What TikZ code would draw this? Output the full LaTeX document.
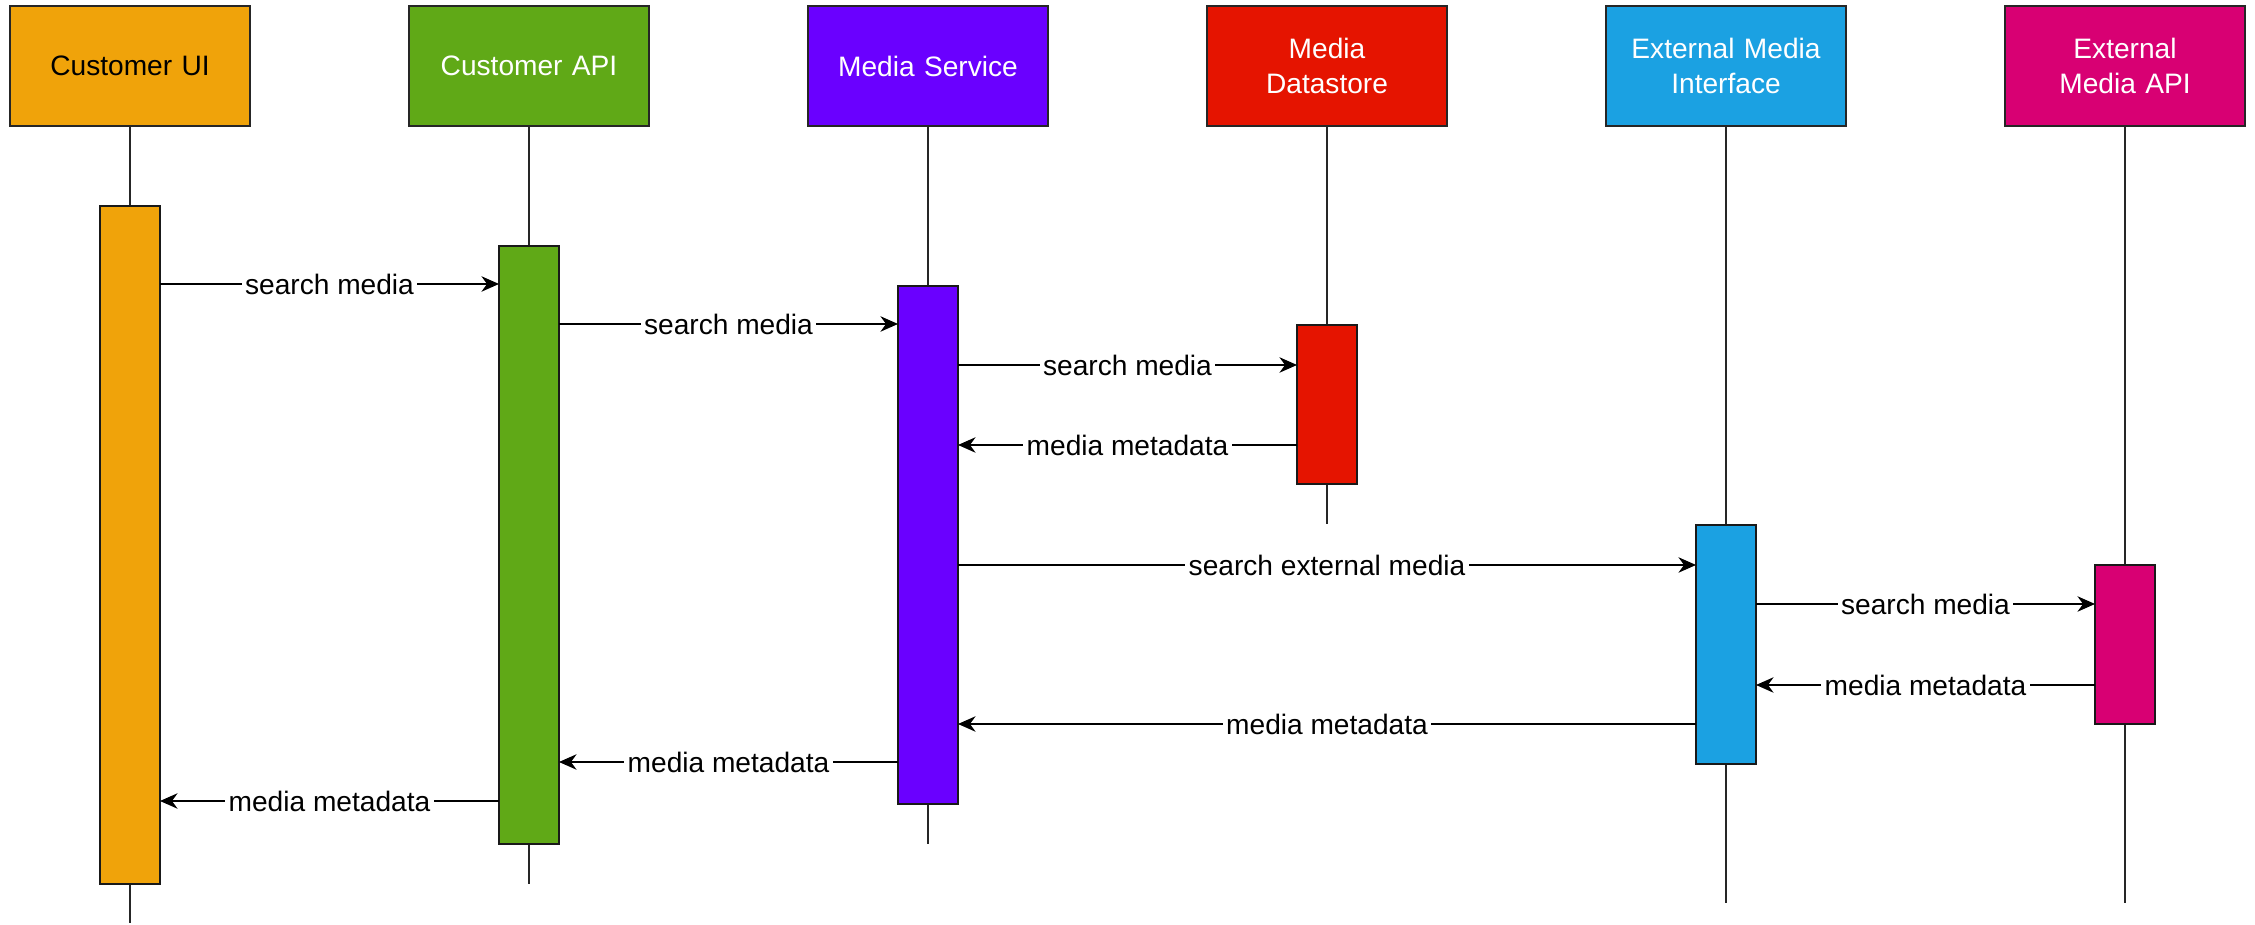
\documentclass[tikz,border=0pt]{standalone}
\usepackage{fontspec}
\setmainfont{Liberation Sans}
\usetikzlibrary{arrows, arrows.meta, positioning, calc}

\definecolor{uiorange}{HTML}{F0A30A}
\definecolor{apigreen}{HTML}{60A917}
\definecolor{svcpurple}{HTML}{6A00FF}
\definecolor{storered}{HTML}{E51400}
\definecolor{extblue}{HTML}{1BA1E2}
\definecolor{extpink}{HTML}{D80073}

\tikzstyle{participant} = [
    rectangle, 
    minimum width=2.4cm, 
    minimum height=1.2cm, 
    text centered, 
    text width=2.2cm, 
    inner sep=2pt, 
    draw=black!85, 
    line width=0.7pt, 
    outer sep=0pt, 
    font=\fontsize{8}{9.7}\selectfont
]
\tikzstyle{activation} = [
    rectangle, 
    minimum width=0.6cm, 
    inner sep=0pt, 
    outer sep=0pt, 
    draw=black!90, 
    line width=0.55pt
]
\tikzstyle{lifeline} = [draw=black!85, line width=0.5pt]
\tikzstyle{arrow} = [->, >={Stealth[length=5pt, width=4.4pt, inset=1.6pt]}, line width=0.45pt]
\tikzstyle{msg} = [fill=white, inner sep=1pt, font=\fontsize{8}{9.7}\selectfont]

\begin{document}
\begin{tikzpicture}
    \useasboundingbox (0,0) rectangle (22.55,-9.25);

    % Participants
    \node (ui) [participant, fill=uiorange] at (1.30,-0.66) {Customer UI};
    \node (api) [participant, fill=apigreen, text=white, right=1.59cm of ui] {Customer API};
    \node (service) [participant, fill=svcpurple, text=white, right=1.59cm of api] {Media Service};
    \node (store) [participant, fill=storered, text=white, right=1.59cm of service] {Media\\Datastore};
    \node (ext_iface) [participant, fill=extblue, text=white, right=1.59cm of store] {External Media\\Interface};
    \node (ext_api) [participant, fill=extpink, text=white, right=1.59cm of ext_iface] {External\\Media API};

    % Lifeline ends
    \coordinate (ui_end) at ($(ui.south)+(0,-7.97)$);
    \coordinate (api_end) at ($(api.south)+(0,-7.58)$);
    \coordinate (service_end) at ($(service.south)+(0,-7.18)$);
    \coordinate (store_end) at ($(store.south)+(0,-3.98)$);
    \coordinate (ext_iface_end) at ($(ext_iface.south)+(0,-7.77)$);
    \coordinate (ext_api_end) at ($(ext_api.south)+(0,-7.77)$);

    % Lifelines
    \draw [lifeline] (ui.south) -- (ui_end);
    \draw [lifeline] (api.south) -- (api_end);
    \draw [lifeline] (service.south) -- (service_end);
    \draw [lifeline] (store.south) -- (store_end);
    \draw [lifeline] (ext_iface.south) -- (ext_iface_end);
    \draw [lifeline] (ext_api.south) -- (ext_api_end);

    % Activation bars
    \node (ui_bar) [activation, fill=uiorange, minimum height=6.78cm, below=0.8cm of ui] {};
    \node (api_bar) [activation, fill=apigreen, minimum height=5.98cm, below=1.2cm of api] {};
    \node (service_bar) [activation, fill=svcpurple, minimum height=5.18cm, below=1.6cm of service] {};
    \node (store_bar) [activation, fill=storered, minimum height=1.59cm, below=1.99cm of store] {};
    \node (ext_iface_bar) [activation, fill=extblue, minimum height=2.39cm, below=3.99cm of ext_iface] {};
    \node (ext_api_bar) [activation, fill=extpink, minimum height=1.59cm, below=4.39cm of ext_api] {};

    % Message rows
    \coordinate (row1) at (0,-2.84);
    \coordinate (row2) at (0,-3.24);
    \coordinate (row3) at (0,-3.65);
    \coordinate (row4) at (0,-4.45);
    \coordinate (row5) at (0,-5.65);
    \coordinate (row6) at (0,-6.04);
    \coordinate (row7) at (0,-6.85);
    \coordinate (row8) at (0,-7.24);
    \coordinate (row9) at (0,-7.62);
    \coordinate (row10) at (0,-8.01);

    % Requests
    \draw [arrow] (ui_bar.east |- row1) -- node[msg] {search media} (api_bar.west |- row1);
    \draw [arrow] (api_bar.east |- row2) -- node[msg] {search media} (service_bar.west |- row2);
    \draw [arrow] (service_bar.east |- row3) -- node[msg] {search media} (store_bar.west |- row3);
    \draw [arrow] (store_bar.west |- row4) -- node[msg] {media metadata} (service_bar.east |- row4);
    \draw [arrow] (service_bar.east |- row5) -- node[msg] {search external media} (ext_iface_bar.west |- row5);
    \draw [arrow] (ext_iface_bar.east |- row6) -- node[msg] {search media} (ext_api_bar.west |- row6);

    % Responses
    \draw [arrow] (ext_api_bar.west |- row7) -- node[msg] {media metadata} (ext_iface_bar.east |- row7);
    \draw [arrow] (ext_iface_bar.west |- row8) -- node[msg] {media metadata} (service_bar.east |- row8);
    \draw [arrow] (service_bar.west |- row9) -- node[msg] {media metadata} (api_bar.east |- row9);
    \draw [arrow] (api_bar.west |- row10) -- node[msg] {media metadata} (ui_bar.east |- row10);
\end{tikzpicture}
\end{document}
